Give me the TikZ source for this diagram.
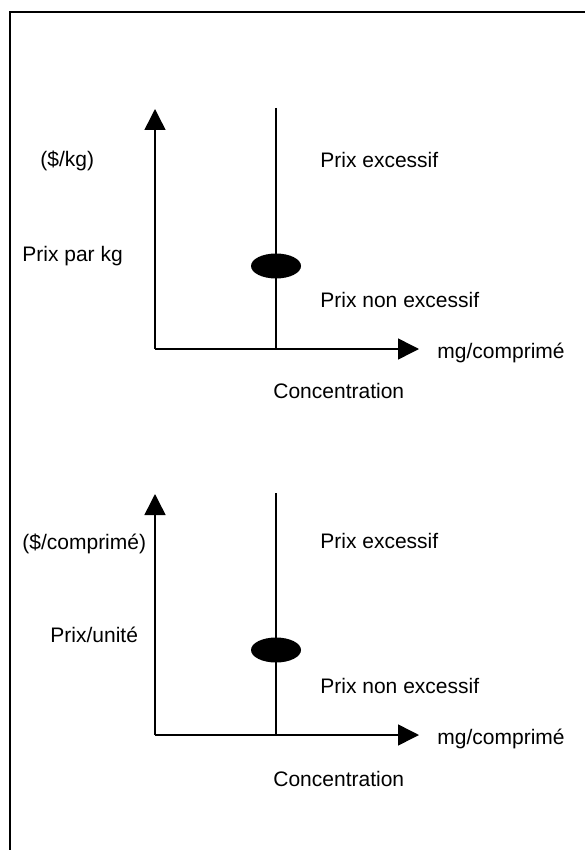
\documentclass[tikz,border=0pt]{standalone}
\usepackage{fontspec}
\setmainfont{Liberation Sans}
\usetikzlibrary{arrows.meta,shapes.geometric}

\begin{document}
\begin{tikzpicture}[
  x=0.5pt,y=-0.5pt,
  axis/.style={line width=0.75pt,-{Triangle[length=10.5pt,width=10.5pt]}},
  cut/.style={line width=0.75pt},
  frame/.style={line width=1.25pt},
  blob/.style={ellipse,fill=black,inner sep=0pt,minimum width=25pt,minimum height=12.5pt},
  lbl/.style={anchor=base west,inner sep=0pt,font=\fontsize{10.5}{12}\selectfont}
]
  \useasboundingbox (0,0) rectangle (584,850);
  \draw[frame] (590,12) -- (10,12) -- (10,856);
  % upper diagram
  \coordinate (o1) at (155,349);
  \coordinate (y1) at (155,109);
  \coordinate (x1) at (419,349);
  \coordinate (t1) at (276,108);
  \coordinate (b1) at (276,349);
  \node[blob] (p1) at (276,266) {};
  \draw[axis] (o1) -- (y1);
  \draw[axis] (o1) -- (x1);
  \draw[cut] (t1) -- (b1);
  \node[lbl] (u1) at (40,167) {(\$/kg)};
  \node[lbl] (q1) at (22,261) {Prix par kg};
  \node[lbl] (e1) at (320,168) {Prix excessif};
  \node[lbl] (n1) at (320,307) {Prix non excessif};
  \node[lbl] (m1) at (437,358) {mg/comprimé};
  \node[lbl] (c1) at (273,398) {Concentration};
  % lower diagram
  \coordinate (o2) at (155,735);
  \coordinate (y2) at (155,494);
  \coordinate (x2) at (419,735);
  \coordinate (t2) at (276,493);
  \coordinate (b2) at (276,735);
  \node[blob] (p2) at (276,650) {};
  \draw[axis] (o2) -- (y2);
  \draw[axis] (o2) -- (x2);
  \draw[cut] (t2) -- (b2);
  \node[lbl] (u2) at (22,549) {(\$/comprimé)};
  \node[lbl] (q2) at (50,642) {Prix/unité};
  \node[lbl] (e2) at (320,548) {Prix excessif};
  \node[lbl] (n2) at (320,693) {Prix non excessif};
  \node[lbl] (m2) at (437,744) {mg/comprimé};
  \node[lbl] (c2) at (273,786) {Concentration};
\end{tikzpicture}
\end{document}
